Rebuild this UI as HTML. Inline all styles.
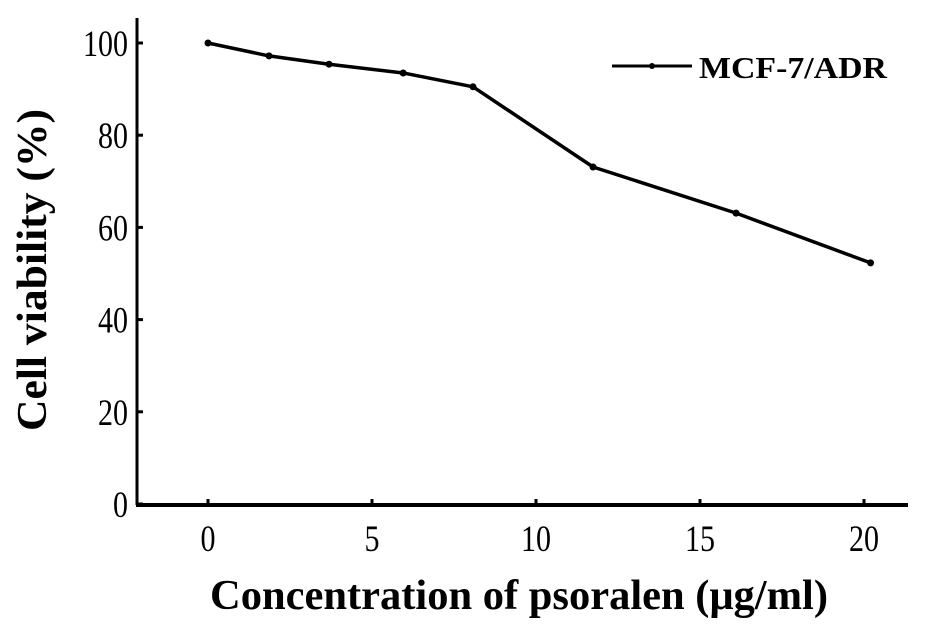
<!DOCTYPE html>
<html><head><meta charset="utf-8"><style>
html,body{margin:0;padding:0;background:#fff;}
svg{display:block;font-family:"Liberation Serif",serif;}
</style></head><body>
<svg id="chart" width="928" height="627" viewBox="0 0 928 627" xmlns="http://www.w3.org/2000/svg">
<g id="axes"></g>
<g id="series"></g>
<g>
<line x1="612" y1="66" x2="692" y2="66" stroke="#000" stroke-width="3"/>
<circle cx="652" cy="66" r="3" fill="#000"/>
<text x="699" y="78" font-size="31" font-weight="bold" textLength="188" lengthAdjust="spacingAndGlyphs">MCF-7/ADR</text>
</g>
<text x="519" y="609" text-anchor="middle" font-size="42" font-weight="bold" textLength="618" lengthAdjust="spacingAndGlyphs">Concentration of psoralen (μg/ml)</text>
<text transform="translate(46,270) rotate(-90)" text-anchor="middle" font-size="42" font-weight="bold" textLength="322" lengthAdjust="spacingAndGlyphs">Cell viability (%)</text>
</svg>
<script>
const xValues = [0, 1.86, 3.69, 5.95, 8.08, 11.74, 16.1, 20.2];
const viability = [100, 97.2, 95.4, 93.5, 90.5, 73.1, 63.1, 52.3];
const xTicks = [0, 5, 10, 15, 20];
const yTicks = [0, 20, 40, 60, 80, 100];

const NS = "http://www.w3.org/2000/svg";
function xs(v){ return 208 + v * 32.8; }
function ys(v){ return 504 - v * 4.61; }
function mk(tag, attrs, parent){
  const e = document.createElementNS(NS, tag);
  for (const k in attrs) e.setAttribute(k, attrs[k]);
  parent.appendChild(e);
  return e;
}
const axes = document.getElementById('axes');
let yAxis = mk('line', {x1:137, y1:18, x2:137, y2:505, stroke:'#000', 'stroke-width':3}, axes);


let xAxis = mk('line', {x1:136, y1:505, x2:908, y2:505, stroke:'#000', 'stroke-width':4}, axes);


xTicks.forEach(t => {
  const x = xs(t);
  let tk = mk('line', {x1:x, y1:499, x2:x, y2:505, stroke:'#000', 'stroke-width':3}, axes);
  
  
  let lb = mk('text', {x:x, y:551, 'text-anchor':'middle', 'font-size':37, textLength:String(t).length*15, lengthAdjust:'spacingAndGlyphs'}, axes);
  lb.textContent = t;
  
  
});
yTicks.forEach(t => {
  const y = ys(t);
  let tk = mk('line', {x1:137, y1:y, x2:143, y2:y, stroke:'#000', 'stroke-width':3}, axes);
  
  
  let lb = mk('text', {x:128, y:y+13, 'text-anchor':'end', 'font-size':37, textLength:String(t).length*15, lengthAdjust:'spacingAndGlyphs'}, axes);
  lb.textContent = t;
  
  
});
const series = document.getElementById('series');
const pts = xValues.map((x,i) => xs(x) + ',' + ys(viability[i])).join(' ');
let pl = mk('polyline', {points:pts, fill:'none', stroke:'#000', 'stroke-width':3.5, 'stroke-linejoin':'round'}, series);


xValues.forEach((x,i) => {
  let c = mk('circle', {cx:xs(x), cy:ys(viability[i]), r:3.5, fill:'#000'}, series);
  
  
});
</script>
</body></html>
